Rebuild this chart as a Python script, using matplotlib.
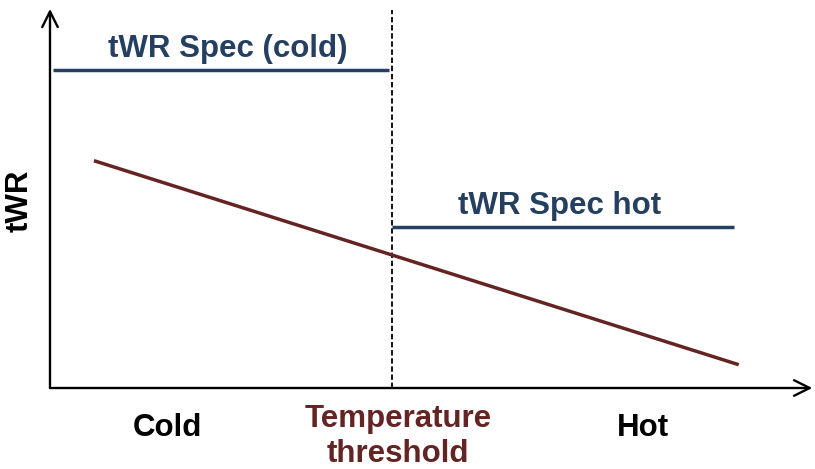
import matplotlib.pyplot as plt

# Plot parameters
plt.rcParams.update({
    'font.family': 'Liberation Sans',
    'font.weight': 'bold',
    'font.size': 22.5,
})

# Data (arbitrary units, axes span 0..100)
threshold = 45
cold_spec = 84
hot_spec = 42.5
cold_x = [0.4, threshold - 0.4]
hot_x = [threshold, 90]
twr_x = [6, 90.4]
twr_y = [60, 6.3]

navy = '#243F60'
maroon = '#632423'

fig = plt.figure(figsize=(8.15, 4.69), dpi=100)
# axes region in pixels: x 50..810, y 10..388
ax = fig.add_axes([50 / 815, (469 - 388) / 469, 760 / 815, 378 / 469])
ax.set_xlim(0, 100)
ax.set_ylim(0, 100)
ax.axis('off')

# axes with arrows
ax.annotate('', xy=(100.3, 0), xytext=(0, 0),
            arrowprops=dict(arrowstyle='->', lw=1.7, color='black',
                            mutation_scale=28, shrinkA=0, shrinkB=0),
            annotation_clip=False)
ax.annotate('', xy=(0, 100.3), xytext=(0, 0),
            arrowprops=dict(arrowstyle='->', lw=1.7, color='black',
                            mutation_scale=28, shrinkA=0, shrinkB=0),
            annotation_clip=False)

# threshold
ax.plot([threshold, threshold], [0, 100], color='black', lw=1.3,
        linestyle=(0, (3, 1.5)), clip_on=False)

# specs
ax.plot(cold_x, [cold_spec, cold_spec], color=navy, lw=2.5, solid_capstyle='butt')
ax.plot(hot_x, [hot_spec, hot_spec], color=navy, lw=2.5, solid_capstyle='butt')
ax.plot(twr_x, twr_y, color=maroon, lw=2.5)

# labels
ax.text(23.4, 89.6, 'tWR Spec (cold)', color=navy, ha='center', va='center')
ax.text(67.1, 48.1, 'tWR Spec hot', color=navy, ha='center', va='center')
ax.text(15.4, -10.6, 'Cold', ha='center', va='center', clip_on=False)
ax.text(78, -10.6, 'Hot', ha='center', va='center', clip_on=False)
ax.text(45.8, -12.9, 'Temperature\nthreshold', color=maroon,
        ha='center', va='center', linespacing=1.22, clip_on=False)
ax.text(-4.0, 49.5, 'tWR', rotation=90, ha='center', va='center', clip_on=False)

plt.savefig('out.png', dpi=100)
